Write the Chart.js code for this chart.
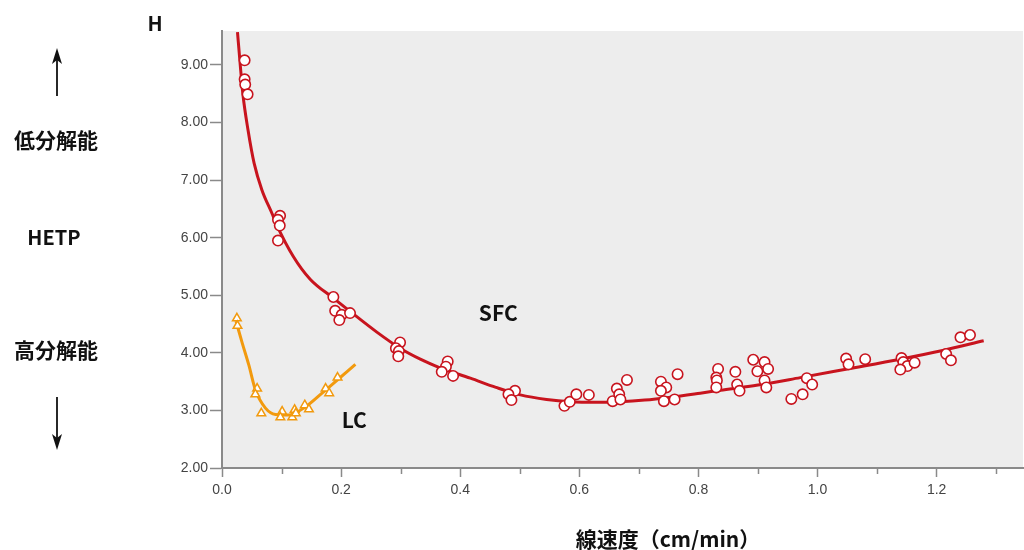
<!DOCTYPE html>
<html>
<head>
<meta charset="utf-8">
<script src="https://cdn.jsdelivr.net/npm/chart.js@4/dist/chart.umd.min.js"></script>
<style>
  html, body { margin: 0; padding: 0; background: #fff; }
  #wrap { position: relative; width: 1024px; height: 550px; }
</style>
</head>
<body>
<div id="wrap"><canvas id="hetp"></canvas></div>
<script>
// SFC measurements (linear velocity vs HETP)
const sfcX = [0.038, 0.038, 0.039, 0.043,
  0.0975, 0.094, 0.097, 0.094,
  0.187, 0.19, 0.201, 0.197, 0.215,
  0.299, 0.292, 0.297, 0.296,
  0.379, 0.376, 0.369, 0.388,
  0.492, 0.481, 0.486,
  0.575, 0.584, 0.595, 0.616,
  0.656, 0.663, 0.667, 0.669, 0.680,
  0.737, 0.746, 0.737, 0.742, 0.760, 0.765,
  0.833, 0.830, 0.831, 0.830,
  0.862, 0.865, 0.869,
  0.892, 0.911, 0.899, 0.917, 0.911, 0.914,
  0.956, 0.975, 0.982, 0.991,
  1.048, 1.052, 1.080,
  1.141, 1.144, 1.151, 1.139, 1.163,
  1.216, 1.224, 1.240, 1.256];
const sfcY = [9.08, 8.75, 8.66, 8.49,
  6.38, 6.31, 6.21, 5.95,
  4.97, 4.73, 4.66, 4.57, 4.69,
  4.18, 4.08, 4.03, 3.94,
  3.85, 3.76, 3.67, 3.60,
  3.34, 3.28, 3.18,
  3.08, 3.15, 3.28, 3.27,
  3.16, 3.38, 3.28, 3.19, 3.53,
  3.50, 3.40, 3.34, 3.16, 3.19, 3.63,
  3.72, 3.57, 3.52, 3.40,
  3.67, 3.45, 3.34,
  3.88, 3.84, 3.68, 3.72, 3.52, 3.40,
  3.20, 3.28, 3.56, 3.45,
  3.90, 3.80, 3.89,
  3.91, 3.84, 3.77, 3.71, 3.83,
  3.98, 3.87, 4.27, 4.31];

// SFC fitted curve
const sfcCurveX = [0.026, 0.030, 0.035, 0.0437, 0.054, 0.067, 0.084, 0.092, 0.120, 0.148,
  0.187, 0.215, 0.260, 0.299, 0.333, 0.366, 0.417, 0.460, 0.501, 0.545, 0.585, 0.630,
  0.669, 0.710, 0.753, 0.803, 0.837, 0.900, 0.971, 1.050, 1.139, 1.210, 1.279];
const sfcCurveY = [9.57, 9.08, 8.50, 7.87, 7.29, 6.83, 6.42, 6.22, 5.67, 5.28,
  4.95, 4.72, 4.36, 4.08, 3.89, 3.74, 3.56, 3.40, 3.27, 3.19, 3.15, 3.14,
  3.15, 3.18, 3.23, 3.30, 3.35, 3.44, 3.57, 3.72, 3.89, 4.04, 4.21];

// LC measurements and curve
const lcX = [0.025, 0.026, 0.059, 0.056, 0.066, 0.101, 0.098, 0.118, 0.122, 0.124, 0.139, 0.146, 0.174, 0.180, 0.194];
const lcY = [4.60, 4.47, 3.38, 3.28, 2.95, 2.98, 2.88, 2.88, 3.01, 2.95, 3.09, 3.02, 3.38, 3.30, 3.57];
const lcCurveX = [0.0235, 0.034, 0.045, 0.056, 0.073, 0.090, 0.112, 0.140, 0.168, 0.196, 0.224];
const lcCurveY = [4.55, 4.17, 3.79, 3.36, 3.04, 2.93, 2.92, 3.06, 3.30, 3.55, 3.80];

// axis ranges
const xRange = [0, 1.345];
const yRange = [2, 9.59];

const RED = '#c8141e';
const ORANGE = '#f29a0e';
const AXIS = '#8a8a8a';
const BOLD = 'bold 21px "Noto Sans CJK JP", "Noto Sans", sans-serif';

function pts(xs, ys) {
  return xs.map((x, i) => ({x: x, y: ys[i]}));
}

function isMinor(v) {
  return Math.round(v * 10) % 2 !== 0;
}

// grey plot area behind the data
const plotBg = {
  id: 'plotBg',
  beforeDraw(chart) {
    const a = chart.chartArea, c = chart.ctx;
    c.save();
    c.fillStyle = '#ededed';
    c.fillRect(a.left, a.top, a.right - a.left, a.bottom - a.top);
    c.restore();
  }
};

function arrow(c, x, y0, y1) {
  // shaft from y0 to tip at y1
  const dir = y1 > y0 ? 1 : -1;
  c.beginPath();
  c.moveTo(x, y0);
  c.lineTo(x, y1 - dir * 10);
  c.stroke();
  c.beginPath();
  c.moveTo(x, y1);
  c.lineTo(x - 5, y1 - dir * 16);
  c.lineTo(x, y1 - dir * 12);
  c.lineTo(x + 5, y1 - dir * 16);
  c.closePath();
  c.fill();
}

// side labels, arrows, series names, short minor ticks
const notes = {
  id: 'notes',
  afterDraw(chart) {
    const c = chart.ctx;
    const xs = chart.scales.x, ys = chart.scales.y;
    c.save();

    // minor x ticks
    c.strokeStyle = AXIS;
    c.lineWidth = 1.5;
    for (let v = 0.1; v < xRange[1]; v += 0.2) {
      const px = Math.round(xs.getPixelForValue(v)) + 0.5;
      c.beginPath();
      c.moveTo(px, ys.bottom);
      c.lineTo(px, ys.bottom + 6);
      c.stroke();
    }

    c.fillStyle = '#111';
    c.textAlign = 'center';
    c.textBaseline = 'middle';
    c.font = 'bold 20px "Noto Sans CJK JP", sans-serif';
    c.fillText('H', 155, 23);
    c.font = BOLD;
    c.fillText('低分解能', 56, 140);
    c.font = 'bold 20px "Noto Sans CJK JP", sans-serif';
    c.fillText('HETP', 54, 237);
    c.font = BOLD;
    c.fillText('高分解能', 56, 350);

    c.strokeStyle = '#111';
    c.lineWidth = 1.8;
    arrow(c, 57, 96, 48);
    arrow(c, 57, 397, 450);

    c.font = BOLD;
    c.fillText('SFC', xs.getPixelForValue(0.464), ys.getPixelForValue(4.69));
    c.fillText('LC', xs.getPixelForValue(0.222), ys.getPixelForValue(2.83));

    c.fillText('線速度（cm/min）', 668, 539);
    c.restore();
  }
};

const ctx = document.getElementById('hetp').getContext('2d');
new Chart(ctx, {
  type: 'scatter',
  data: {
    datasets: [
      {
        data: pts(sfcX, sfcY),
        pointStyle: 'circle',
        pointRadius: 5.2,
        pointBorderWidth: 1.6,
        pointBackgroundColor: '#fff',
        pointBorderColor: RED,
        showLine: false,
        order: 1
      },
      {
        data: pts(lcX, lcY),
        pointStyle: 'triangle',
        pointRadius: 5,
        pointBorderWidth: 1.5,
        pointBackgroundColor: '#fff',
        pointBorderColor: ORANGE,
        showLine: false,
        order: 1
      },
      {
        data: pts(sfcCurveX, sfcCurveY),
        showLine: true,
        borderColor: RED,
        borderWidth: 3,
        pointRadius: 0,
        cubicInterpolationMode: 'monotone',
        order: 3
      },
      {
        data: pts(lcCurveX, lcCurveY),
        showLine: true,
        borderColor: ORANGE,
        borderWidth: 3,
        pointRadius: 0,
        cubicInterpolationMode: 'monotone',
        order: 2
      }
    ]
  },
  options: {
    responsive: true,
    maintainAspectRatio: false,
    animation: false,
    layout: {autoPadding: false, padding: {left: 140, top: 31, right: 1, bottom: 42}},
    plugins: {legend: {display: false}, tooltip: {enabled: false}},
    scales: {
      x: {
        type: 'linear',
        min: xRange[0],
        max: xRange[1],
        afterFit(scale) {
          scale.height = 40;
          scale.paddingRight = 0;
        },
        border: {display: true, color: AXIS, width: 2},
        grid: {
          drawOnChartArea: false,
          drawTicks: true,
          tickLength: 9,
          tickWidth: 1.5,
          tickColor: c => (c.tick && isMinor(c.tick.value)) ? 'rgba(0,0,0,0)' : AXIS
        },
        ticks: {
          stepSize: 0.1,
          autoSkip: false,
          includeBounds: false,
          maxRotation: 0,
          padding: 5,
          color: '#444',
          font: {family: '"Liberation Sans", Arial, sans-serif', size: 14},
          callback: v => isMinor(v) ? '' : v.toFixed(1)
        }
      },
      y: {
        type: 'linear',
        min: yRange[0],
        max: yRange[1],
        afterFit(scale) { scale.width = 82; },
        border: {display: true, color: AXIS, width: 2},
        grid: {
          drawOnChartArea: false,
          drawTicks: true,
          tickLength: 12,
          tickWidth: 1.5,
          tickColor: AXIS
        },
        ticks: {
          stepSize: 1,
          includeBounds: false,
          padding: 2,
          color: '#444',
          font: {family: '"Liberation Sans", Arial, sans-serif', size: 14},
          callback: v => v.toFixed(2)
        }
      }
    }
  },
  plugins: [plotBg, notes]
});
</script>
</body>
</html>
